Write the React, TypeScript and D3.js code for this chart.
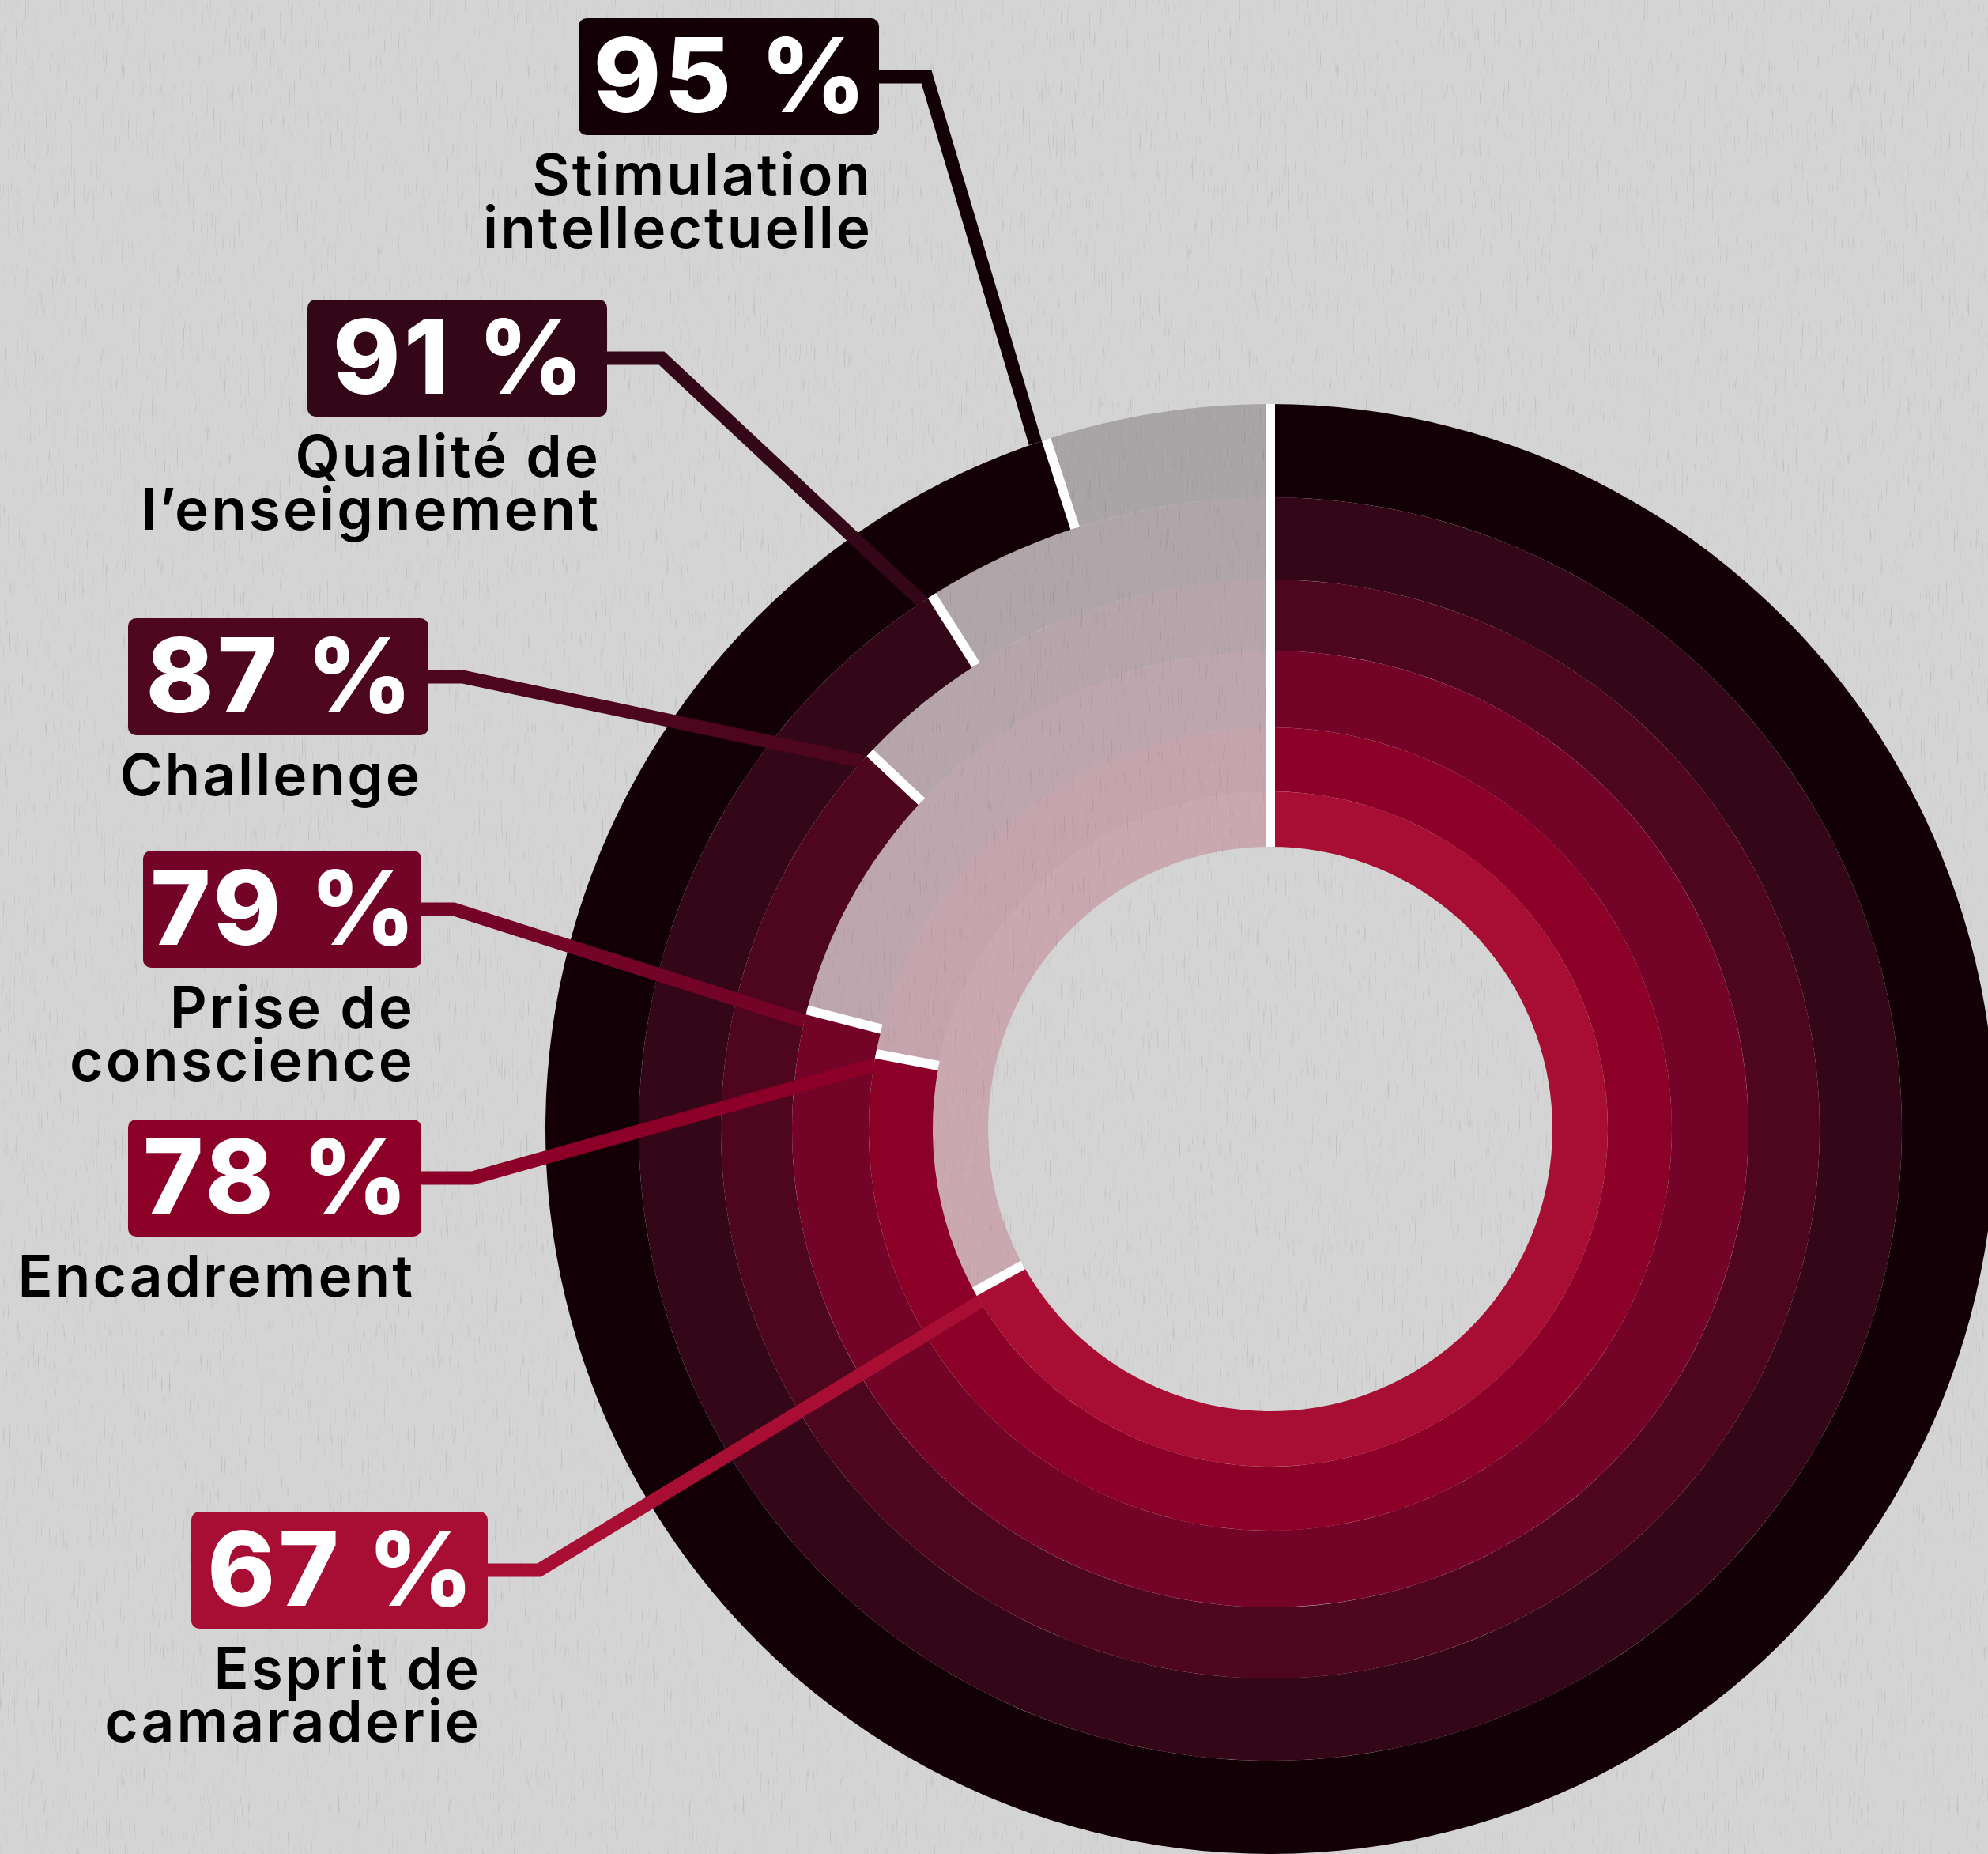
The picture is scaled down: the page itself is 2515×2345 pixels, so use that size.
import * as d3 from "d3";

const categories = [
  ["Stimulation", "intellectuelle"],
  ["Qualité de", "l’enseignement"],
  ["Challenge"],
  ["Prise de", "conscience"],
  ["Encadrement"],
  ["Esprit de", "camaraderie"],
];
const values = [95, 91, 87, 79, 78, 67];
const colors = ["#130007", "#330618", "#4e061f", "#730427", "#8c0027", "#a80e33"];

// layout
const W = 2515;
const H = 2345;
const CX = 1607;
const CY = 1428;
const ringEdges = [917, 799, 695, 605, 508, 427, 357];
const boxes = [
  { x: 732, y: 23, w: 380, bend: 1172 },
  { x: 389, y: 379, w: 379, bend: 837 },
  { x: 162, y: 782, w: 380, bend: 585 },
  { x: 181, y: 1076, w: 352, bend: 574 },
  { x: 162, y: 1416, w: 371, bend: 598 },
  { x: 242, y: 1912, w: 375, bend: 682 },
];
const BOX_H = 148;
const SEP = 12;
const LEADER = 17;

export default function App() {
  const angle = d3.scaleLinear().domain([0, 100]).range([0, 2 * Math.PI]);
  const radius = d3
    .scaleLinear()
    .domain(d3.range(ringEdges.length))
    .range(ringEdges);
  const arc = d3.arc();
  const line = d3.line();

  const toXY = (a: number, r: number): [number, number] => {
    const [x, y] = d3.pointRadial(a, r);
    return [CX + x, CY + y];
  };

  return (
    <svg
      width={W}
      height={H}
      viewBox={`0 0 ${W} ${H}`}
      style={{ position: "absolute", left: 0, top: 0, display: "block" }}
    >
      <defs>
        <filter id="grain" x="0" y="0" width="100%" height="100%">
          <feTurbulence
            type="fractalNoise"
            baseFrequency="0.5 0.03"
            numOctaves={3}
            seed={7}
            result="n"
          />
          <feColorMatrix
            in="n"
            type="matrix"
            values="0 0 0 0 0.3  0 0 0 0 0.3  0 0 0 0 0.3  5 0 0 0 -3.2"
          />
        </filter>
      </defs>

      <rect width={W} height={H} fill="#d4d4d4" />
      <rect width={W} height={H} fill="#000" filter="url(#grain)" opacity={0.3} />

      <g transform={`translate(${CX},${CY})`}>
        {values.map((v, i) => {
          const outer = radius(i);
          const inner = radius(i + 1);
          return (
            <g key={categories[i].join(" ")}>
              <path
                d={
                  arc({
                    innerRadius: inner,
                    outerRadius: outer,
                    startAngle: angle(v),
                    endAngle: angle(100),
                  }) as string
                }
                fill={colors[i]}
                opacity={0.22}
              />
              <path
                d={
                  arc({
                    innerRadius: inner,
                    outerRadius: outer,
                    startAngle: angle(0),
                    endAngle: angle(v),
                  }) as string
                }
                fill={colors[i]}
              />
            </g>
          );
        })}
      </g>

      {/* white separators */}
      <path
        d={line([toXY(0, radius(0)), toXY(0, radius(values.length))]) as string}
        stroke="#fff"
        strokeWidth={SEP}
      />
      {values.map((v, i) => (
        <path
          key={`tick-${i}`}
          d={line([toXY(angle(v), radius(i)), toXY(angle(v), radius(i + 1))]) as string}
          stroke="#fff"
          strokeWidth={SEP}
        />
      ))}

      {/* leaders */}
      {values.map((v, i) => {
        const b = boxes[i];
        const r = radius(i);
        const a = angle(v) - (LEADER / 2 + SEP / 2) / r;
        const end = toXY(a, r);
        const cy = b.y + BOX_H / 2;
        return (
          <path
            key={`leader-${i}`}
            d={line([[b.x + b.w - 2, cy], [b.bend, cy], end]) as string}
            fill="none"
            stroke={colors[i]}
            strokeWidth={LEADER}
            strokeLinejoin="miter"
          />
        );
      })}

      {/* labels */}
      {values.map((v, i) => {
        const b = boxes[i];
        return (
          <g key={`label-${i}`}>
            <rect x={b.x} y={b.y} width={b.w} height={BOX_H} rx={10} fill={colors[i]} />
            <text
              x={b.x + b.w / 2 + 3}
              y={b.y + 119}
              textAnchor="middle"
              fill="#fff"
              fontFamily="Inter, 'Open Sans', sans-serif"
              fontWeight={800}
              fontSize={130}
              letterSpacing={4}
            >
              {`${v} %`}
            </text>
            <text
              textAnchor="end"
              fill="#000"
              fontFamily="Inter, 'Open Sans', sans-serif"
              fontWeight={600}
              fontSize={73}
              letterSpacing={3}
            >
              {categories[i].map((t, k) => (
                <tspan key={t} x={b.x + b.w - 8} y={b.y + BOX_H + 76 + k * 67}>
                  {t}
                </tspan>
              ))}
            </text>
          </g>
        );
      })}
    </svg>
  );
}
